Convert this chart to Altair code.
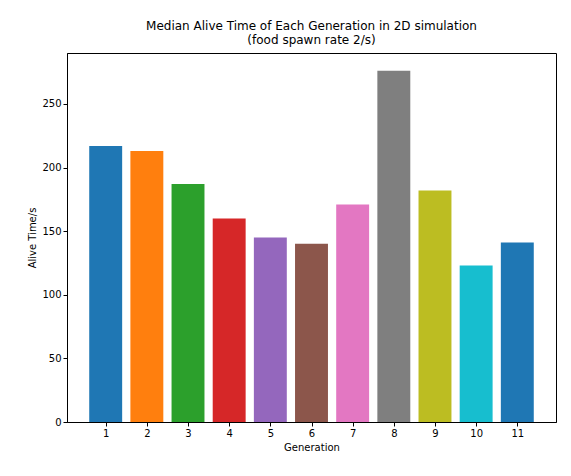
import altair as alt
import pandas as pd

generations = [1, 2, 3, 4, 5, 6, 7, 8, 9, 10, 11]
alive_time = [217, 213, 187, 160, 145, 140, 171, 276, 182, 123, 141]
colors = ["#1f77b4", "#ff7f0e", "#2ca02c", "#d62728", "#9467bd", "#8c564b",
          "#e377c2", "#7f7f7f", "#bcbd22", "#17becf", "#1f77b4"]

df = pd.DataFrame({"gen": generations, "t": alive_time, "c": colors})
df["x0"] = df["gen"] - 0.4
df["x1"] = df["gen"] + 0.4

font = "DejaVu Sans"

chart = alt.Chart(df).mark_bar().encode(
    x=alt.X("x0:Q", scale=alt.Scale(domain=[0.06, 11.94], nice=False, zero=False, padding=0),
            title="Generation",
            axis=alt.Axis(values=generations, format="d", grid=False, tickColor="black",
                          domainColor="black", labelColor="black", titleColor="black",
                          labelFontSize=10, titleFontSize=10, titleFontWeight="normal",
                          labelFont=font, titleFont=font, tickSize=4)),
    x2="x1:Q",
    y=alt.Y("t:Q", scale=alt.Scale(domain=[0, 290], nice=False, padding=0),
            title="Alive Time/s",
            axis=alt.Axis(values=[0, 50, 100, 150, 200, 250], grid=False, tickColor="black",
                          domainColor="black", labelColor="black", titleColor="black",
                          labelFontSize=10, titleFontSize=10, titleFontWeight="normal",
                          labelFont=font, titleFont=font, tickSize=4)),
    y2=alt.datum(0),
    color=alt.Color("c:N", scale=None),
).properties(
    width=489,
    height=369,
    autosize="none",
    padding={"left": 59, "top": 45, "right": 7, "bottom": 46},
    title=alt.Title(["Median Alive Time of Each Generation in 2D simulation",
                     "(food spawn rate 2/s)"],
                    font=font, fontSize=12, fontWeight="normal", color="black", offset=6),
).configure_view(stroke="black")

chart.save("out.html", embed_options={"renderer": "svg", "actions": False})
